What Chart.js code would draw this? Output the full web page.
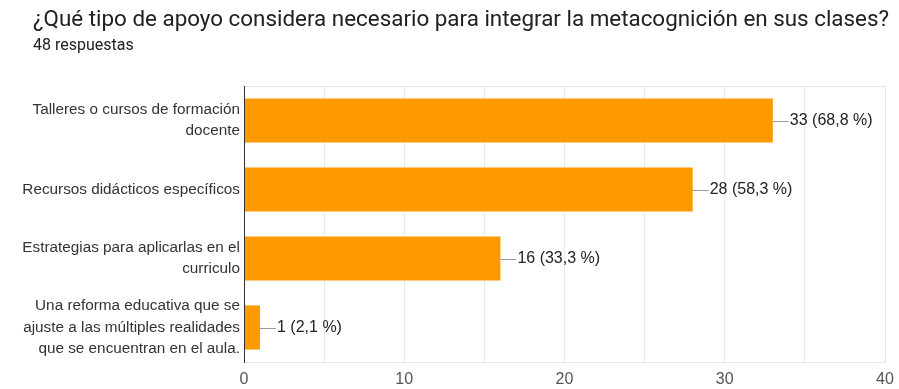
<!DOCTYPE html>
<html>
<head>
<meta charset="utf-8">
<script src="https://cdn.jsdelivr.net/npm/chart.js@4.4.1/dist/chart.umd.min.js"></script>
<style>
  html, body { margin: 0; padding: 0; background: #fff; }
  #wrap { position: relative; width: 899px; height: 389px; }
  #title { position: absolute; left: 33px; top: 5px; font: 22.4px Roboto, Arial, sans-serif; color: #202124; white-space: nowrap; }
  #sub { position: absolute; left: 33px; top: 35px; font: 16px Roboto, Arial, sans-serif; color: #202124; white-space: nowrap; }
  canvas { position: absolute; left: 0; top: 0; }
</style>
</head>
<body>
<div id="wrap">
  <canvas id="chart" width="899" height="389"></canvas>
  <div id="title"></div>
  <div id="sub"></div>
</div>
<script>
const TITLE = '¿Qué tipo de apoyo considera necesario para integrar la metacognición en sus clases?';
const SUBTITLE = '48 respuestas';
const categories = [
  ['Talleres o cursos de formación', 'docente'],
  ['Recursos didácticos específicos'],
  ['Estrategias para aplicarlas en el', 'curriculo'],
  ['Una reforma educativa que se', 'ajuste a las múltiples realidades', 'que se encuentran en el aula.'],
];
const counts = [33, 28, 16, 1];
const percents = ['68,8', '58,3', '33,3', '2,1'];
const xTicks = [0, 10, 20, 30, 40];

document.getElementById('title').textContent = TITLE;
document.getElementById('sub').textContent = SUBTITLE;

const FONT = 'Arial, "Liberation Sans", sans-serif';

const frame = {
  id: 'frame',
  beforeDatasetsDraw(chart) {
    const { ctx, chartArea: a } = chart;
    ctx.save();
    ctx.strokeStyle = '#e6e6e6';
    ctx.lineWidth = 1;
    ctx.strokeRect(Math.round(a.left) + 0.5, Math.round(a.top) + 0.5,
      Math.round(a.right - a.left), Math.round(a.bottom - a.top));
    ctx.restore();
  }
};

const barLabels = {
  id: 'barLabels',
  afterDatasetsDraw(chart) {
    const ctx = chart.ctx;
    const meta = chart.getDatasetMeta(0);
    ctx.save();
    ctx.font = '16px ' + FONT;
    ctx.textBaseline = 'middle';
    meta.data.forEach((bar, i) => {
      const y = Math.round(bar.y) + 0.5;
      ctx.strokeStyle = '#999';
      ctx.lineWidth = 1;
      ctx.beginPath();
      ctx.moveTo(bar.x, y);
      ctx.lineTo(bar.x + 16, y);
      ctx.stroke();
      ctx.fillStyle = '#222';
      ctx.fillText(`${counts[i]} (${percents[i]} %)`, bar.x + 17, bar.y);
    });
    ctx.restore();
  }
};

new Chart(document.getElementById('chart'), {
  type: 'bar',
  data: {
    labels: categories,
    datasets: [{
      data: counts,
      backgroundColor: '#ff9900',
      borderWidth: 0,
      categoryPercentage: 0.64,
      barPercentage: 1,
    }],
  },
  plugins: [frame, barLabels],
  options: {
    indexAxis: 'y',
    responsive: false,
    animation: false,
    layout: { padding: { left: 0, right: 14, top: 86, bottom: 0 } },
    plugins: {
      legend: { display: false },
      tooltip: { enabled: false },
    },
    scales: {
      x: {
        min: 0,
        max: 40,
        afterFit: (s) => { s.height = 27; s.paddingRight = 0; s.paddingLeft = 0; },
        ticks: {
          stepSize: 5,
          color: '#555',
          font: { family: FONT, size: 16 },
          callback: (v) => xTicks.includes(v) ? v : '',
          maxRotation: 0,
          padding: 8,
        },
        grid: { color: '#ebebeb', drawTicks: false },
        border: { display: false },
      },
      y: {
        afterFit: (s) => { s.width = 244; },
        ticks: {
          color: '#333',
          font: { family: FONT, size: 15.3, lineHeight: 1.4 },
          padding: 4,
        },
        grid: { display: false, drawTicks: false },
        border: { color: '#333', width: 1, z: 1 },
      },
    },
  },
});
</script>
</body>
</html>
